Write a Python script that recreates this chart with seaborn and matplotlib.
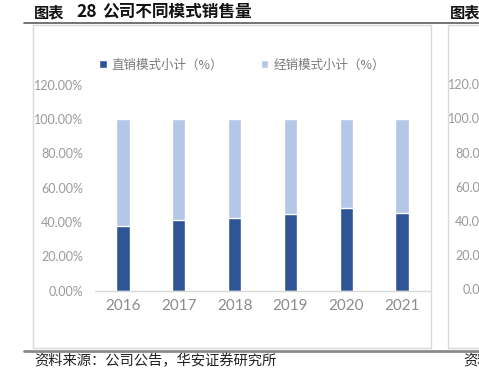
import pandas as pd
import seaborn as sns
import matplotlib.pyplot as plt
import matplotlib.ticker as ticker
from matplotlib.patches import Rectangle
from matplotlib.lines import Line2D
from matplotlib.patches import Patch

# values (%)
years = ["2016", "2017", "2018", "2019", "2020", "2021"]
direct = [37.6, 41.1, 42.4, 44.4, 47.9, 45.4]
distrib = [62.4, 58.9, 57.6, 55.6, 52.1, 54.6]
yticks = [0, 20, 40, 60, 80, 100, 120]

dark = "#2F5597"
light = "#B4C7E7"
cjk = ["Noto Sans CJK SC", "DejaVu Sans"]

df = pd.DataFrame({"year": years, "direct": direct, "distrib": distrib})
df["total"] = df["direct"] + df["distrib"]

sns.set_theme(style="white")
plt.rcParams["font.family"] = cjk

fig = plt.figure(figsize=(4.79, 3.77), dpi=100)
W, H = 479, 377
ax = fig.add_axes([95 / W, 1 - 290.5 / H, 335 / W, 205.5 / H])

# stacked: full bar in light, direct share drawn over it in dark
sns.barplot(data=df, x="year", y="total", color=light, width=0.24,
            saturation=1, ax=ax)
sns.barplot(data=df, x="year", y="direct", color=dark, width=0.24,
            saturation=1, ax=ax)

ax.set_xlim(-0.5, 5.5)
ax.set_ylim(0, 120)
ax.set_yticks(yticks)
ax.yaxis.set_major_formatter(ticker.FuncFormatter(lambda v, _: f"{v:.2f}%"))
ax.set_xlabel("")
ax.set_ylabel("")
for s in ["top", "right", "left"]:
    ax.spines[s].set_visible(False)
ax.spines["bottom"].set_color("#d9d9d9")
ax.spines["bottom"].set_linewidth(1)
ax.tick_params(axis="y", length=0, pad=8.5, labelsize=9, labelcolor="#9a9a9a")
ax.tick_params(axis="x", length=0, pad=6, labelsize=11, labelcolor="#8c8c8c")
for lab in ax.get_xticklabels() + ax.get_yticklabels():
    lab.set_family(["Lato", "DejaVu Sans"])

handles = [Patch(facecolor=dark), Patch(facecolor=light)]
fig.legend(handles, ["直销模式小计（%）", "经销模式小计（%）"],
           loc="center", bbox_to_anchor=(242 / W, 1 - 65 / H), ncol=2,
           frameon=False, fontsize=9, labelcolor="#7a7a7a",
           handlelength=0.6, handleheight=0.6, handletextpad=0.4,
           columnspacing=3.0)

# panel boxes
fig.patches.append(Rectangle((33 / W, 1 - 348 / H), 398 / W, 323 / H,
                             transform=fig.transFigure, fill=False,
                             edgecolor="#d9d9d9", linewidth=1))
fig.patches.append(Rectangle((448 / W, 1 - 348 / H), 100 / W, 323 / H,
                             transform=fig.transFigure, fill=False,
                             edgecolor="#d9d9d9", linewidth=1))

# header / footer rules
fig.lines.append(Line2D([24 / W, 1], [1 - 22.5 / H] * 2, transform=fig.transFigure,
                        color="#5a5a5a", linewidth=1.2))
fig.lines.append(Line2D([24 / W, 1], [1 - 351 / H] * 2, transform=fig.transFigure,
                        color="#8a8a8a", linewidth=2))

# title, split so the spacing follows the reference
tkw = dict(fontweight="bold", va="center", ha="left", color="#111111")
fig.text(34 / W, 1 - 12 / H, "图表", fontsize=11, **tkw)
fig.text(76 / W, 1 - 12 / H, "28", fontsize=12.5, **tkw)
fig.text(102 / W, 1 - 12 / H, "公司不同模式销售量", fontsize=12, **tkw)
fig.text(450 / W, 1 - 12 / H, "图表", fontsize=11, **tkw)

fig.text(34 / W, 1 - 361 / H, "资料来源：公司公告，华安证券研究所", fontsize=10.3,
         va="center", ha="left", color="#222222")
fig.text(463 / W, 1 - 361 / H, "资料", fontsize=10.3,
         va="center", ha="left", color="#222222")

# tick labels of the neighbouring (cut off) panel
for v in yticks:
    y = 290.5 - v * 205.5 / 120
    fig.text(497 / W, 1 - y / H, f"{v:.2f}%", fontsize=9, color="#9a9a9a",
             ha="right", va="center", family=["Lato", "DejaVu Sans"])

fig.savefig("out.png", dpi=100)
